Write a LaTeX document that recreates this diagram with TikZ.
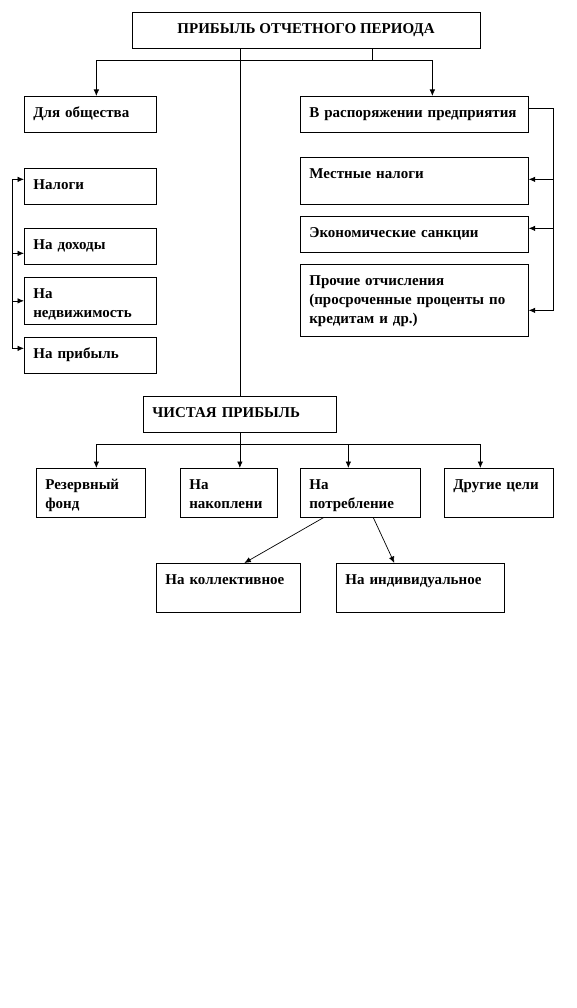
\documentclass[tikz,border=0pt]{standalone}
\usepackage{fontspec}
\setmainfont{Liberation Serif}
\usetikzlibrary{arrows.meta,positioning,calc}

\begin{document}
\begin{tikzpicture}[x=1pt,y=-1pt,line width=.7pt,
     every node/.style={font=\bfseries\fontsize{15}{19}\selectfont},
     box/.style 2 args={draw,anchor=north west,align=left,inner xsep=9pt,inner ysep=0pt,text height=21pt,text width=#1,text depth=#2},
     arr/.style={-{Latex[length=6.5pt,width=5.5pt]}}]
     \useasboundingbox (0,0) rectangle (576,1008);

     \node[draw,minimum width=348pt,minimum height=36pt,inner sep=0pt] (pribyl) at (306,30) {ПРИБЫЛЬ ОТЧЕТНОГО ПЕРИОДА};

     \node[box={114pt}{15pt}] (obsh) at (24,96) {Для общества};
     \node[box={114pt}{15pt}] (nalogi) at (24,168) {Налоги};
     \node[box={114pt}{15pt}] (dohody) at (24,228) {На доходы};
     \node[box={114pt}{26pt}] (nedv) at (24,277) {На\\недвижимость};
     \node[box={114pt}{15pt}] (pribyl2) at (24,337) {На прибыль};

     \node[box={210pt}{15pt}] (rasp) at (300,96) {В распоряжении предприятия};
     \node[box={210pt}{26pt}] (mestn) at (300,157) {Местные налоги};
     \node[box={210pt}{15pt}] (ekon) at (300,216) {Экономические санкции};
     \node[box={210pt}{51pt}] (proch) at (300,264) {Прочие отчисления\\(просроченные проценты по\\кредитам и др.)};

     \node[box={175pt}{15pt}] (chist) at (143,396) {ЧИСТАЯ ПРИБЫЛЬ};
     \node[box={91pt}{28pt}] (rezerv) at (36,468) {Резервный\\фонд};
     \node[box={79pt}{28pt}] (nakop) at (180,468) {На\\накоплени};
     \node[box={102pt}{28pt}] (potr) at (300,468) {На\\потребление};
     \node[box={91pt}{28pt}] (drugie) at (444,468) {Другие цели};
     \node[box={126pt}{28pt}] (koll) at (156,563) {На коллективное};
     \node[box={150pt}{28pt}] (indiv) at (336,563) {На индивидуальное};

     \coordinate (razv) at (372,60);
     \draw (pribyl.south -| razv) -- (razv);
     \draw[arr] (razv) -| ([xshift=6pt]obsh.north);
     \draw[arr] (razv) -| ([xshift=18pt]rasp.north);
     \draw (pribyl.south -| chist.north) -- (chist.north);

     \draw ([xshift=-12pt,yshift=7pt]nalogi.west) -- ([xshift=-12pt,yshift=7pt]pribyl2.west);
     \foreach \b/\s in {nalogi/7,dohody/-7,nedv/0,pribyl2/7}
       \draw[arr] ([xshift=-12pt,yshift=\s pt]\b.west) -- ([yshift=\s pt]\b.west);

     \draw ([yshift=6pt]rasp.east) -- ++(25pt,0) -- ([xshift=25pt,yshift=-10pt]proch.east);
     \foreach \b/\s in {mestn/1.5,ekon/6,proch/-10}
       \draw[arr] ([xshift=25pt,yshift=\s pt]\b.east) -- ([yshift=\s pt]\b.east);

     \coordinate (razv2) at ([yshift=-12pt]chist.south);
     \draw (chist.south) -- (razv2);
     \draw[arr] (razv2) -| ([xshift=5.5pt]rezerv.north);
     \draw[arr] (razv2) -- (razv2 |- nakop.north);
     \draw[arr] (razv2) -| ([xshift=-12pt]potr.north);
     \draw[arr] (razv2) -| ([xshift=-18.5pt]drugie.north);
     \draw[arr] ([xshift=-37pt]potr.south) -- ([xshift=16pt]koll.north);
     \draw[arr] ([xshift=13pt]potr.south) -- ([xshift=-26pt]indiv.north);
\end{tikzpicture}
\end{document}
